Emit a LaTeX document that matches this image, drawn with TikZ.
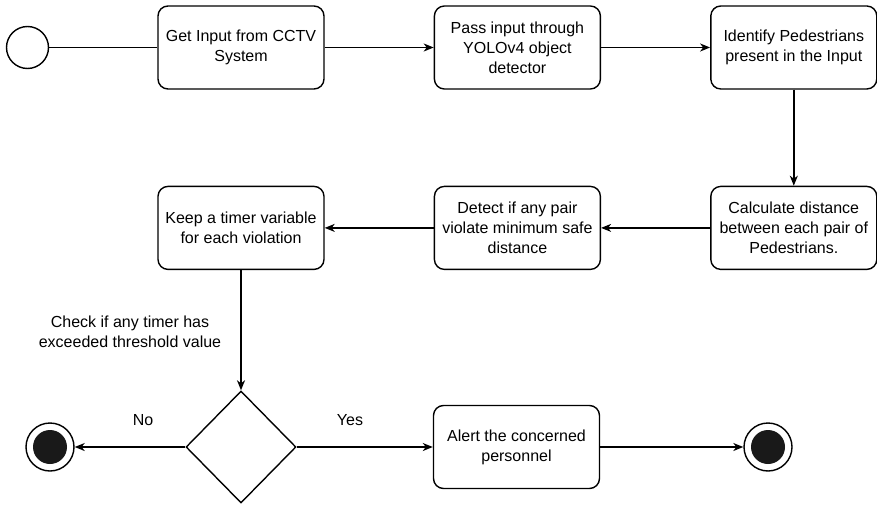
\documentclass[tikz,border=0pt]{standalone}
\usepackage{fontspec}
\setmainfont{Liberation Sans}
\usetikzlibrary{positioning,shapes.geometric,arrows.meta}
\tikzset{
  actbox/.style={draw, rounded corners=10pt, line width=1.4pt, minimum width=166pt, minimum height=83pt, inner sep=2pt, align=center, font=\fontsize{16}{20}\selectfont},
  flow/.style={line width=1.4pt, -{Stealth[length=10pt,width=8pt,inset=3pt]}},
  plain/.style={line width=1.4pt},
  startstate/.style={circle, draw, line width=1.4pt, minimum size=42pt, inner sep=0pt},
  endstate/.style={circle, draw, line width=1.4pt, minimum size=48pt, inner sep=0pt,
    path picture={\fill[black!90] (path picture bounding box.center) circle (17pt);}},
  decision/.style={diamond, draw, line width=1.4pt, minimum width=110pt, minimum height=112pt, inner sep=0pt},
  lbl/.style={font=\fontsize{16}{20}\selectfont, align=center}
}
\begin{document}
\begin{tikzpicture}[x=1pt,y=-1pt]
\useasboundingbox (0,0) rectangle (877,505);
\node[startstate] (start) at (27.5,47.5) {};
\node[actbox] (getinput) at (241,47.5) {Get Input from CCTV\\System};
\node[actbox, right=109pt of getinput] (yolo) {Pass input through\\YOLOv4 object\\detector};
\node[actbox, right=109pt of yolo] (identify) {Identify Pedestrians\\present in the Input};
\node[actbox, below=96pt of identify] (calcdist) {Calculate distance\\between each pair of\\Pedestrians.};
\node[actbox, left=109pt of calcdist] (detect) {Detect if any pair\\violate minimum safe\\distance};
\node[actbox, left=109pt of detect] (timer) {Keep a timer variable\\for each violation};
\node[decision] (check) at (241,447) {};
\node[actbox] (alert) at (516.5,447) {Alert the concerned\\personnel};
\node[endstate] (endno) at (50,447) {};
\node[endstate] (endyes) at (768,447) {};
\node[lbl] (checktext) at (130,331.5) {Check if any timer has\\exceeded threshold value};
\node[lbl] (nolbl) at (143,420) {No};
\node[lbl] (yeslbl) at (350,420) {Yes};
\draw[plain] (start) -- (getinput);
\draw[flow] (getinput) -- (yolo);
\draw[flow] (yolo) -- (identify);
\draw[flow] (identify) -- (calcdist);
\draw[flow] (calcdist) -- (detect);
\draw[flow] (detect) -- (timer);
\draw[flow] (timer) -- (check);
\draw[flow] (check) -- (endno);
\draw[flow] (check) -- (alert);
\draw[flow] (alert) -- (endyes);
\end{tikzpicture}
\end{document}
